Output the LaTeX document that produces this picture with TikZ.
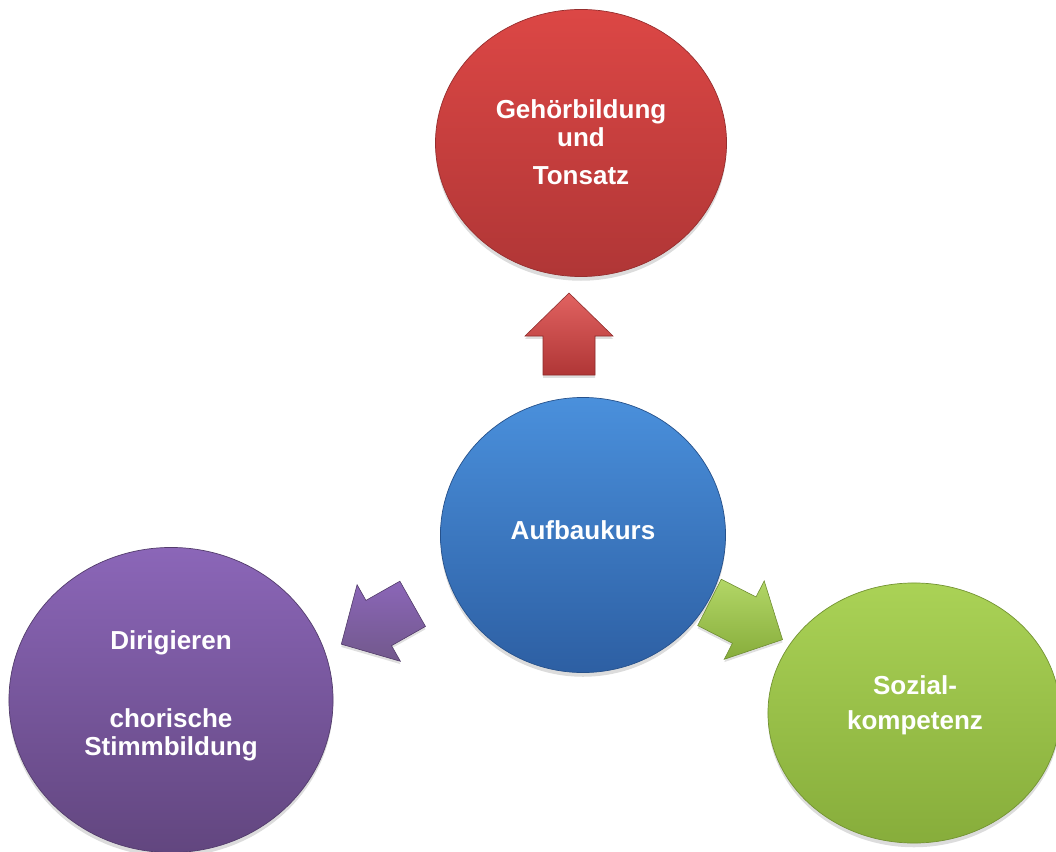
\documentclass[tikz,border=0pt]{standalone}
\usepackage{fontspec}
\setmainfont{Liberation Sans}
\usetikzlibrary{shapes.geometric,shadows,calc}
\definecolor{redT}{HTML}{DC4745}
\definecolor{redB}{HTML}{B03636}
\definecolor{bluT}{HTML}{4A90DC}
\definecolor{bluB}{HTML}{2D5FA3}
\definecolor{purT}{HTML}{8B66B8}
\definecolor{purB}{HTML}{62467F}
\definecolor{grnT}{HTML}{AAD256}
\definecolor{grnB}{HTML}{87AD3B}
\begin{document}
\begin{tikzpicture}[x=0.025cm,y=-0.025cm,
  bubble/.style={ellipse, inner sep=0pt, line width=0.5pt,
    drop shadow={opacity=0.28, shadow xshift=0pt, shadow yshift=-3pt}},
  lbl/.style={text=white, font=\bfseries\fontsize{18.5}{20}\selectfont, align=center},
  arrowlook/.style={line width=0.4pt,
    drop shadow={opacity=0.25, shadow xshift=0pt, shadow yshift=-2pt}},
  pics/blockarrow/.style={code={
    \path[arrowlook,#1] (-41,-26) -- (-2,-26) -- (-2,-44) -- (41,0)
      -- (-2,44) -- (-2,26) -- (-41,26) -- cycle;
  }}
]
\useasboundingbox (0,0) rectangle (1056,852);
\clip (0,0) rectangle (1056,852);

% circles
\node[bubble, minimum width=7.275cm, minimum height=6.675cm,
      top color=redT, bottom color=redB, draw=redB!85!black] (hear) at (581,143) {};
\node[bubble, minimum width=7.125cm, minimum height=6.875cm,
      top color=bluT, bottom color=bluB, draw=bluB!85!black] (auf) at (583,535) {};
\node[bubble, minimum width=8.1cm, minimum height=7.625cm,
      top color=purT, bottom color=purB, draw=purB!85!black] (dir) at (171,700) {};
\node[bubble, minimum width=7.3cm, minimum height=6.5cm,
      top color=grnT, bottom color=grnB, draw=grnB!85!black] (soz) at (914,713) {};

% labels
\node[lbl] (heartxt) at (581,142) {Gehörbildung\\und\\[7pt]Tonsatz};
\node[lbl] (auftxt) at (583,530) {Aufbaukurs};
\node[lbl] (dirtxt) at (171,696) {Dirigieren\\[35pt]chorische\\Stimmbildung};
\node[lbl] (soztxt) at (915,705) {Sozial-\\[5pt]kompetenz};

% block arrows
\pic[rotate=90] (upA) at (569,334)
  {blockarrow={top color=redT!85!white, bottom color=redB, draw=redB!80!black}};
\pic[rotate=209.5] (leftA) at (377,624)
  {blockarrow={top color=purT, bottom color=purB!90!white, draw=purB!80!black}};
\pic[rotate=-27] (rightA) at (746,621)
  {blockarrow={top color=grnT!90!white, bottom color=grnB, draw=grnB!80!black}};
\end{tikzpicture}
\end{document}
